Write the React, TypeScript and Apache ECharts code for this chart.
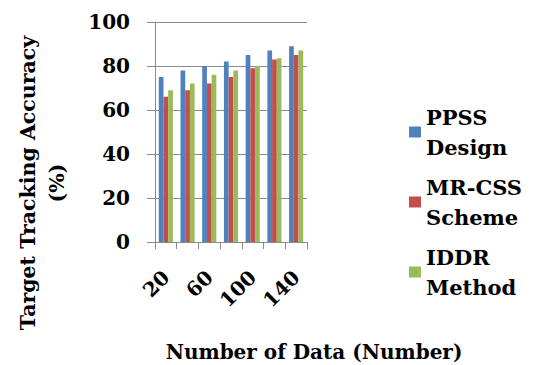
import { useEffect, useRef } from 'react';
import * as echarts from 'echarts';

// Number of data points per run (x categories)
const categories = ['20', '40', '60', '80', '100', '120', '140'];

// Target tracking accuracy (%) per method
const ppssDesign = [75, 78, 80, 82, 85, 87, 89];
const mrCssScheme = [66, 69, 72, 75, 79, 83, 85];
const iddrMethod = [69, 72, 76, 78, 80, 83.5, 87];

const seriesNames = ['PPSS Design', 'MR-CSS Scheme', 'IDDR Method'];
const seriesColors = ['#4F81BD', '#C0504D', '#9BBB59'];

const yMin = 0;
const yMax = 100;
const yStep = 20;

const xTitle = 'Number of Data (Number)';
const yTitle = 'Target Tracking Accuracy\n(%)';

const FONT = 'DejaVu Serif';
const GRID_GRAY = '#8a8a8a';

export default function App() {
  const ref = useRef<HTMLDivElement>(null);

  useEffect(() => {
    if (!ref.current) return;
    const chart = echarts.init(ref.current, undefined, { renderer: 'svg' });

    const values = [ppssDesign, mrCssScheme, iddrMethod];

    chart.setOption({
      animation: false,
      backgroundColor: '#ffffff',
      textStyle: { fontFamily: FONT },
      grid: { left: 155, right: 226, top: 22, bottom: 123 },
      xAxis: {
        type: 'category',
        data: categories,
        boundaryGap: true,
        axisLine: { show: true, lineStyle: { color: GRID_GRAY, width: 1 } },
        axisTick: { show: true, interval: 0, alignWithLabel: false, length: 7, lineStyle: { color: GRID_GRAY } },
        axisLabel: {
          interval: 1,
          rotate: 45,
          margin: 32,
          color: '#000',
          fontFamily: FONT,
          fontWeight: 'bold',
          fontSize: 20,
        },
        splitLine: { show: false },
      },
      yAxis: {
        type: 'value',
        min: yMin,
        max: yMax,
        interval: yStep,
        axisLine: { show: true, lineStyle: { color: GRID_GRAY, width: 1 } },
        axisTick: { show: true, length: 8, lineStyle: { color: GRID_GRAY } },
        axisLabel: {
          margin: 25,
          color: '#000',
          fontFamily: FONT,
          fontWeight: 'bold',
          fontSize: 20,
        },
        splitLine: { show: true, lineStyle: { color: GRID_GRAY, width: 1 } },
      },
      legend: {
        orient: 'vertical',
        left: 409,
        top: 87,
        padding: 0,
        itemGap: -20,
        itemWidth: 12,
        itemHeight: 11,
        icon: 'rect',
        data: seriesNames,
        formatter: (name: string) => name.replace(' ', '\n'),
        textStyle: {
          color: '#000',
          fontFamily: FONT,
          fontWeight: 'bold',
          fontSize: 21,
          lineHeight: 30,
          padding: [30, 0, 0, 0],
        },
      },
      graphic: [
        {
          type: 'text',
          x: 42,
          y: 183,
          rotation: Math.PI / 2,
          style: {
            text: yTitle,
            fill: '#000',
            fontFamily: FONT,
            fontWeight: 'bold',
            fontSize: 20.5,
            lineHeight: 29,
            textAlign: 'center',
            textVerticalAlign: 'middle',
            align: 'center',
            verticalAlign: 'middle',
          },
        },
        {
          type: 'text',
          x: 314,
          y: 352,
          style: {
            text: xTitle,
            fill: '#000',
            fontFamily: FONT,
            fontWeight: 'bold',
            fontSize: 20,
            textAlign: 'center',
            textVerticalAlign: 'middle',
            align: 'center',
            verticalAlign: 'middle',
          },
        },
      ],
      series: seriesNames.map((name, i) => ({
        name,
        type: 'bar',
        data: values[i],
        barGap: '0%',
        barCategoryGap: '35%',
        itemStyle: { color: seriesColors[i] },
      })),
    });

    return () => chart.dispose();
  }, []);

  return (
    <div
      ref={ref}
      style={{ position: 'fixed', left: 0, top: 0, width: 533, height: 365, background: '#fff' }}
    />
  );
}
